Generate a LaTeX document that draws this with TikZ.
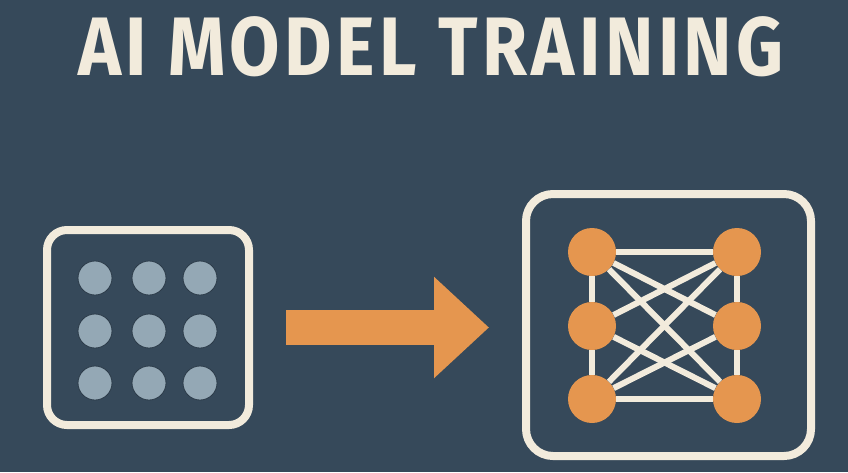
\documentclass[tikz,border=0pt]{standalone}
\usepackage{fontspec}
\newfontfamily\titlefont[LetterSpace=6]{Fira Sans}
\usetikzlibrary{arrows.meta, positioning}
\definecolor{slate}{HTML}{36495A}
\definecolor{cream}{HTML}{F2EBDC}
\definecolor{carrot}{HTML}{E5964F}
\definecolor{mist}{HTML}{94A8B5}
\tikzset{
    frame/.style={rectangle, rounded corners=22pt, draw=cream, line width=8pt},
    datadot/.style={circle, fill=mist, draw=slate!80!black, line width=0.8pt,
                    minimum size=34pt, inner sep=0pt},
    unit/.style={circle, fill=carrot, minimum size=48pt, inner sep=0pt},
    link/.style={draw=cream, line width=6pt},
    bigarrow/.style={carrot, line width=35pt,
                     -{Triangle[length=55pt, width=98pt]}}
}

\begin{document}
\begin{tikzpicture}[x=1pt, y=-1pt]
    \fill[slate] (0,0) rectangle (848,472);
    \node[text=cream, anchor=base, font=\titlefont\bfseries\fontsize{83}{90}\selectfont]
        (title) at (431,75) {\scalebox{0.88}[1]{AI MODEL TRAINING}};

    % input data grid
    \node[frame, rounded corners=20pt, minimum width=202pt, minimum height=195pt] (input) at (148,327.5) {};
    \foreach \r/\y in {1/278, 2/331, 3/383}
        \foreach \c/\x in {1/95, 2/149, 3/200}
            \node[datadot] (d\r\c) at (\x,\y) {};

    % trained network
    \node[frame, rounded corners=27pt, minimum width=285pt, minimum height=262pt] (model) at (668.5,325) {};
    \foreach \i/\y in {1/252, 2/326, 3/399} {
        \node[unit] (L\i) at (592,\y) {};
        \node[unit] (R\i) at (737,\y) {};
    }
    \foreach \a/\b in {L1/R1, L3/R3, L1/L2, L2/L3, R1/R2, R2/R3,
                       L1/R2, L2/R1, L1/R3, L3/R1, L2/R3, L3/R2}
        \draw[link] (\a) -- (\b);

    \draw[bigarrow] ([xshift=33pt]input.east) -- ([xshift=-33pt]model.west |- input.east);
\end{tikzpicture}
\end{document}
